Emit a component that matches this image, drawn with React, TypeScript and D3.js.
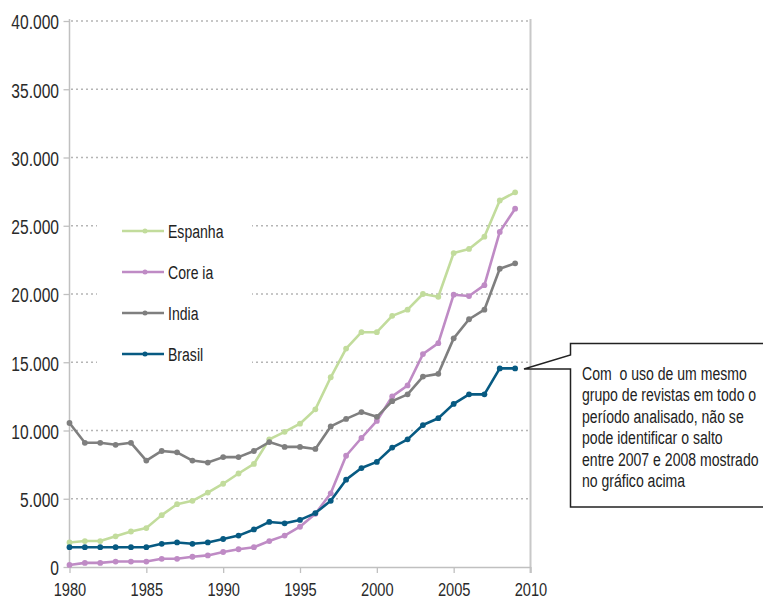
import React, { useRef, useEffect } from 'react';
import { select, scaleLinear, axisLeft, axisBottom, line, formatLocale } from 'd3';

const years = [
  1980, 1981, 1982, 1983, 1984, 1985, 1986, 1987, 1988, 1989,
  1990, 1991, 1992, 1993, 1994, 1995, 1996, 1997, 1998, 1999,
  2000, 2001, 2002, 2003, 2004, 2005, 2006, 2007, 2008, 2009
];

const espanha = [
  1800, 1900, 1900, 2250, 2600, 2850, 3800, 4600, 4850, 5450,
  6100, 6850, 7550, 9350, 9900, 10500, 11550, 13900, 16000, 17200,
  17200, 18400, 18850, 20000, 19800, 23000, 23300, 24200, 26850, 27450
];

const coreia = [
  150, 300, 300, 400, 400, 400, 600, 600, 750, 850,
  1100, 1300, 1450, 1900, 2300, 2950, 3900, 5400, 8150, 9450,
  10700, 12500, 13300, 15600, 16400, 19950, 19850, 20650, 24550, 26250
];

const india = [
  10550, 9100, 9100, 8950, 9100, 7800, 8500, 8400, 7800, 7650,
  8050, 8050, 8500, 9150, 8800, 8800, 8650, 10300, 10850, 11350,
  11000, 12150, 12650, 13950, 14150, 16750, 18150, 18850, 21850, 22250
];

const brasil = [
  1450, 1450, 1450, 1450, 1450, 1450, 1700, 1800, 1700, 1800,
  2050, 2300, 2750, 3300, 3200, 3450, 3950, 4850, 6400, 7250,
  7700, 8750, 9350, 10400, 10900, 11950, 12650, 12650, 14550, 14550
];

const seriesNames = ['Espanha', 'Core ia', 'India', 'Brasil'];
const seriesColors = ['#c2dc9c', '#bf8bc5', '#7f7f7f', '#075a82'];

const yTicks = [0, 5000, 10000, 15000, 20000, 25000, 30000, 35000, 40000];
const xTicks = [1980, 1985, 1990, 1995, 2000, 2005, 2010];

const noteLines = [
  'Com  o uso de um mesmo',
  'grupo de revistas em todo o',
  'período analisado, não se',
  'pode identificar o salto',
  'entre 2007 e 2008 mostrado',
  'no gráfico acima'
];

// no condensed font installed, so squeeze a regular one horizontally
const FONT = '"Liberation Sans", Arial, sans-serif';
const NUM_SQUEEZE = 0.8;
const TXT_SQUEEZE = 0.74;

const App = () => {
  const svgRef = useRef(null);
  const width = 763;
  const height = 601;

  useEffect(() => {
    const svg = select(svgRef.current);
    svg.selectAll('*').remove();

    const x = scaleLinear().domain([1980, 2010]).range([69.5, 530.5]);
    const y = scaleLinear().domain([0, 40000]).range([567, 21]);
    const fmt = formatLocale({ decimal: ',', thousands: '.', grouping: [3], currency: ['', ''] }).format(',d');

    // dotted gridlines
    svg.append('g')
      .selectAll('line')
      .data(yTicks.filter(d => d > 0))
      .join('line')
      .attr('x1', 71).attr('x2', 529)
      .attr('y1', d => y(d)).attr('y2', d => y(d))
      .attr('stroke', '#b5b5b5')
      .attr('stroke-width', 1.3)
      .attr('stroke-dasharray', '2,3');

    // right border
    svg.append('line')
      .attr('x1', x(2010)).attr('x2', x(2010))
      .attr('y1', 19).attr('y2', 573)
      .attr('stroke', '#c8c8c8').attr('stroke-width', 2);

    const yAxis = axisLeft(y).tickValues(yTicks).tickSize(6).tickSizeOuter(0).tickFormat(d => fmt(d));
    const gy = svg.append('g').attr('transform', `translate(${x(1980)},0)`).call(yAxis);
    gy.select('.domain').attr('stroke', '#c0c0c0').attr('stroke-width', 1.5).attr('d', 'M0,19V567');
    gy.selectAll('.tick line').attr('stroke', '#c0c0c0').attr('stroke-width', 1.3);
    gy.selectAll('.tick text')
      .attr('font-family', FONT).attr('font-size', 19.5).attr('fill', '#2a2a2a')
      .attr('x', -10.5 / NUM_SQUEEZE).attr('dy', '0.4em')
      .attr('transform', `scale(${NUM_SQUEEZE},1)`);

    const xAxis = axisBottom(x).tickValues(xTicks).tickSize(6).tickSizeOuter(0).tickFormat(d => String(d));
    const gx = svg.append('g').attr('transform', `translate(0,${y(0)})`).call(xAxis);
    gx.select('.domain').attr('stroke', '#c0c0c0').attr('stroke-width', 1.5);
    gx.selectAll('.tick line').attr('stroke', '#c0c0c0').attr('stroke-width', 1.3);
    gx.selectAll('.tick text')
      .attr('font-family', FONT).attr('font-size', 19).attr('fill', '#2a2a2a')
      .attr('y', 29).attr('dy', 0)
      .attr('transform', `scale(0.77,1)`);

    // legend background
    svg.append('rect')
      .attr('x', 97).attr('y', 192).attr('width', 155).attr('height', 186)
      .attr('fill', '#fff');

    const allSeries = [espanha, coreia, india, brasil];
    const path = line().x((d, i) => x(years[i])).y(d => y(d));

    allSeries.forEach((values, s) => {
      const g = svg.append('g');
      g.append('path')
        .attr('d', path(values))
        .attr('fill', 'none')
        .attr('stroke', seriesColors[s])
        .attr('stroke-width', 2.6)
        .attr('stroke-linejoin', 'round');
      g.selectAll('circle')
        .data(values)
        .join('circle')
        .attr('cx', (d, i) => x(years[i]))
        .attr('cy', d => y(d))
        .attr('r', 2.9)
        .attr('fill', seriesColors[s]);
    });

    // legend
    const legend = svg.append('g');
    seriesNames.forEach((name, i) => {
      const ly = 231 + i * 41;
      legend.append('line')
        .attr('x1', 122).attr('x2', 164).attr('y1', ly).attr('y2', ly)
        .attr('stroke', seriesColors[i]).attr('stroke-width', 2.6);
      legend.append('circle')
        .attr('cx', 145).attr('cy', ly).attr('r', 2.5).attr('fill', seriesColors[i]);
      legend.append('text')
        .attr('transform', `translate(168,${ly + 7}) scale(${TXT_SQUEEZE},1)`)
        .attr('font-family', FONT).attr('font-size', 19).attr('fill', '#222')
        .style('white-space', 'pre')
        .text(name);
    });

    // callout
    svg.append('path')
      .attr('d', 'M785,343.5H570.5V355L524,369L570.5,369V507H785')
      .attr('fill', '#fff')
      .attr('stroke', '#222')
      .attr('stroke-width', 1.5);

    const note = svg.append('text')
      .attr('transform', `translate(582,0) scale(${TXT_SQUEEZE},1)`)
      .attr('font-family', FONT).attr('font-size', 19).attr('fill', '#222')
      .style('white-space', 'pre');
    noteLines.forEach((t, i) => {
      note.append('tspan').attr('x', 0).attr('y', 380 + i * 21.5).text(t);
    });
  }, []);

  return (
    <svg
      ref={svgRef}
      width={width}
      height={height}
      style={{ position: 'absolute', left: 0, top: 0, background: '#fff' }}
    />
  );
};

export default App;
